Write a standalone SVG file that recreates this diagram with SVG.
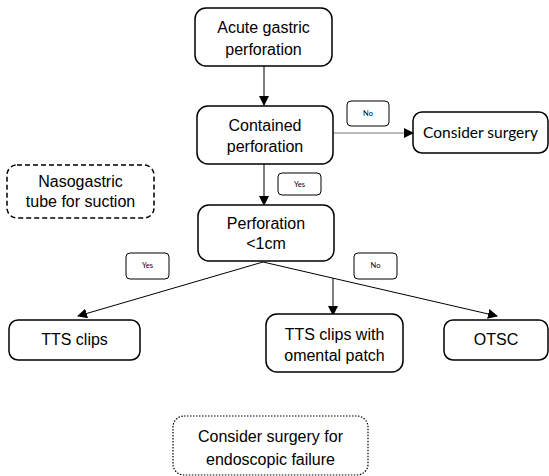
<svg xmlns="http://www.w3.org/2000/svg" width="549" height="476" viewBox="0 0 549 476">
<defs>
<marker id="ah" markerWidth="10" markerHeight="10" refX="9" refY="5" orient="auto" markerUnits="userSpaceOnUse">
<path d="M0,0 L10,5 L0,10 Z" fill="#000"/>
</marker>
<style>
.box{fill:#fff;stroke:#000;stroke-width:1.5}
.lbl{fill:#fff;stroke:#000;stroke-width:1}
.t{font-family:"Liberation Sans",Arial,sans-serif;font-size:16px;fill:#000;text-anchor:middle}
.c{font-family:Lato,"Open Sans",sans-serif;font-size:15.5px;fill:#000;text-anchor:middle}
.s{font-family:Lato,"Open Sans",sans-serif;font-size:7.5px;fill:#000;text-anchor:middle}
.ln{stroke:#000;stroke-width:1;fill:none}
</style>
</defs>
<g id="connectors">
<line class="ln" x1="264" y1="66" x2="264" y2="105" marker-end="url(#ah)"/>
<line x1="333" y1="133" x2="413" y2="133" stroke="#777" stroke-width="1" marker-end="url(#ah)"/>
<line class="ln" x1="264" y1="164" x2="264" y2="205" marker-end="url(#ah)"/>
<line class="ln" x1="263" y1="262" x2="78" y2="316" marker-end="url(#ah)"/>
<line class="ln" x1="263" y1="262" x2="497" y2="316" marker-end="url(#ah)"/>
<line class="ln" x1="333" y1="278" x2="333" y2="315" marker-end="url(#ah)"/>
</g>
<g id="acute"><rect class="box" x="195" y="8" width="137" height="58" rx="11"/><text class="t" x="263.5" y="33">Acute gastric</text><text class="t" x="263.5" y="55">perforation</text></g>
<g id="contained"><rect class="box" x="197" y="106" width="136" height="58" rx="11"/><text class="t" x="265" y="131">Contained</text><text class="t" x="265" y="152">perforation</text></g>
<g id="label-no1"><rect class="lbl" x="347" y="101" width="42" height="25" rx="4"/><text class="s" x="368" y="116">No</text></g>
<g id="consider"><rect class="box" x="413" y="112" width="135" height="41" rx="9"/><text class="c" x="480.5" y="138">Consider surgery</text></g>
<g id="label-yes1"><rect class="lbl" x="278" y="173" width="43" height="22" rx="4"/><text class="s" x="299.5" y="187">Yes</text></g>
<g id="nasogastric"><rect x="7" y="165" width="147" height="53" rx="10" fill="#fff" stroke="#000" stroke-width="1.5" stroke-dasharray="5,3"/><text class="t" x="80.5" y="187">Nasogastric</text><text class="t" x="80.5" y="207">tube for suction</text></g>
<g id="perforation"><rect class="box" x="198" y="205" width="136" height="56" rx="11"/><text class="t" x="266" y="229">Perforation</text><text class="t" x="266" y="249">&lt;1cm</text></g>
<g id="label-yes2"><rect class="lbl" x="126" y="253" width="43" height="26" rx="4"/><text class="s" x="147.5" y="268">Yes</text></g>
<g id="label-no2"><rect class="lbl" x="354" y="253" width="43" height="26" rx="4"/><text class="s" x="375.5" y="268">No</text></g>
<g id="tts"><rect class="box" x="9" y="320" width="131" height="40" rx="9"/><text class="t" x="74.5" y="345">TTS clips</text></g>
<g id="omental"><rect class="box" x="266" y="314" width="137" height="58" rx="11"/><text class="t" x="334.5" y="340">TTS clips with</text><text class="t" x="334.5" y="361">omental patch</text></g>
<g id="otsc"><rect class="box" x="444" y="320" width="104" height="40" rx="9"/><text class="t" x="496" y="345">OTSC</text></g>
<g id="failure"><rect x="173" y="416" width="195" height="59" rx="11" fill="#fff" stroke="#000" stroke-width="1.2" stroke-dasharray="1.5,1.5"/><text class="t" x="270.5" y="442">Consider surgery for</text><text class="t" x="270.5" y="465">endoscopic failure</text></g>
</svg>
